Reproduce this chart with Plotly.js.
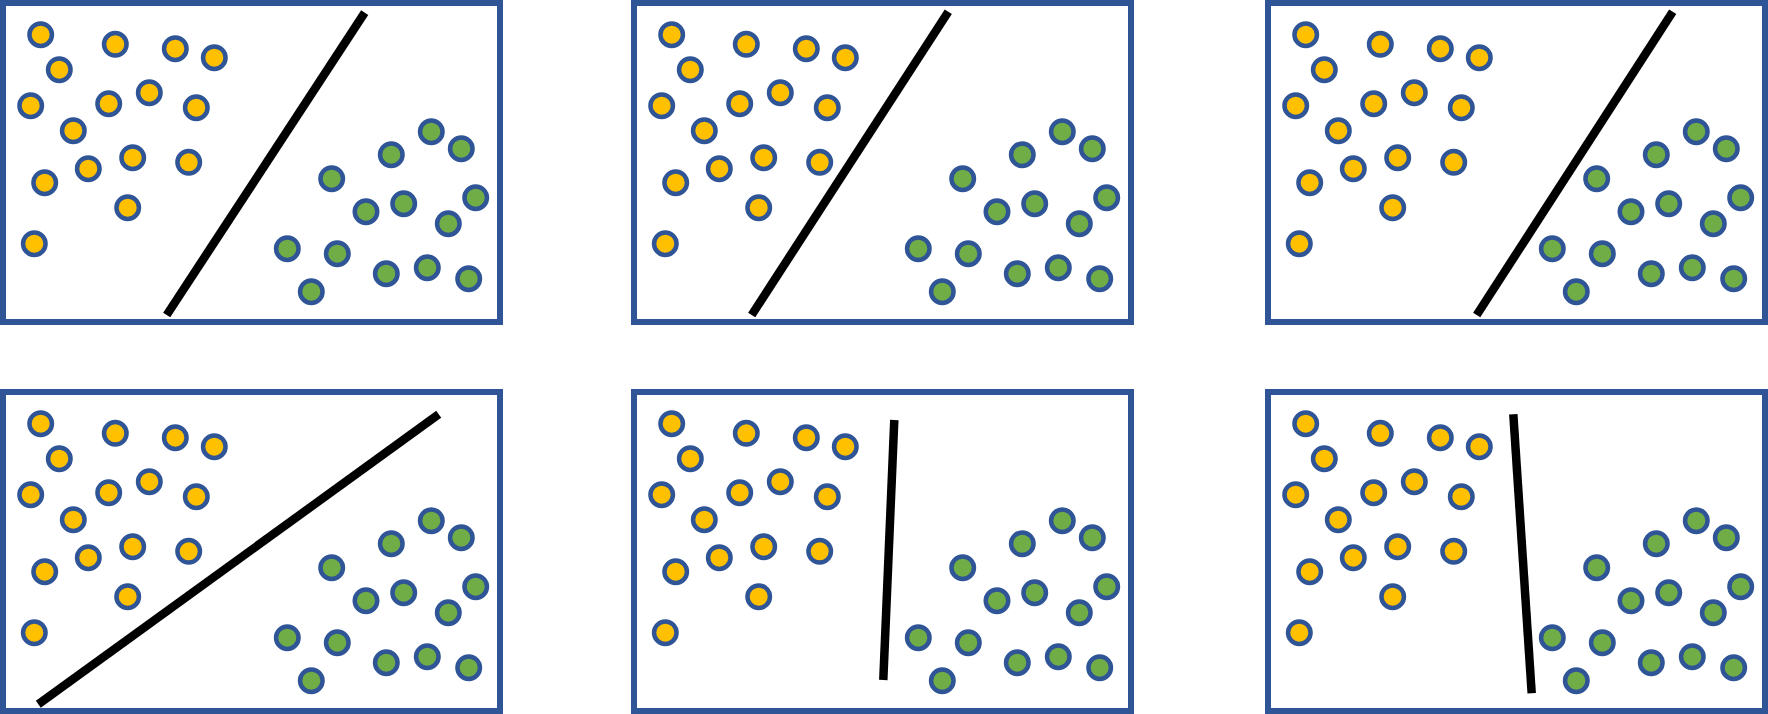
<!DOCTYPE html>
<html>
<head>
<meta charset="utf-8">
<script src="https://cdn.plot.ly/plotly-3.0.1.min.js"></script>
<style>
html,body{margin:0;padding:0;background:#ffffff;}
#chart{width:1768px;height:714px;}
</style>
</head>
<body>
<div id="chart"></div>
<script>
// Point positions (same in every panel), in panel units
const yellowX = [40.7, 115.3, 175.3, 214.3, 59.3, 30.7, 108.7, 149.3, 196.3, 73.3, 132.7, 88.3, 188.7, 44.7, 127.7, 34.3];
const yellowY = [34.7, 44.3, 48.7, 57.7, 69.7, 105.7, 103.7, 92.7, 107.7, 130.7, 157.7, 168.7, 162.3, 182.7, 207.7, 243.7];
const greenX = [431.3, 461.3, 391.3, 331.7, 366.0, 403.7, 475.7, 448.3, 287.3, 337.3, 386.3, 427.3, 468.7, 311.3];
const greenY = [131.7, 148.7, 154.7, 178.7, 211.7, 203.7, 197.7, 223.7, 248.7, 253.7, 273.7, 267.7, 278.7, 291.7];

// Separating line of each panel: [start, end]
const lineX = [[364.7, 166.7], [317.3, 120.7], [407.7, 211.7], [438.7, 38.3], [263.3, 252.3], [248.3, 266.7]];
const lineY = [[12.7, 315.0], [11.7, 315.0], [11.7, 315.0], [25.3, 315.3], [31.0, 291.0], [25.3, 304.3]];

const W = 1768, H = 714;
const panelLeft = [0, 631, 1265];
const panelTop = [0, 389];
const panelW = 503, panelH = 325, border = 6;

const BLUE = '#2F5597', YELLOW = '#FFC000', GREEN = '#70AD47';

const data = [];
const layout = {
  width: W, height: H,
  margin: {l: 0, r: 0, t: 0, b: 0},
  paper_bgcolor: '#ffffff',
  plot_bgcolor: 'rgba(0,0,0,0)',
  showlegend: false,
  shapes: []
};

for (let p = 0; p < 6; p++) {
  const col = p % 3, row = Math.floor(p / 3);
  const idx = p === 0 ? '' : String(p + 1);
  const xa = 'x' + idx, ya = 'y' + idx;
  const x0 = panelLeft[col] + border / 2, x1 = panelLeft[col] + panelW - border / 2;
  const y0 = panelTop[row] + border / 2, y1 = panelTop[row] + panelH - border / 2;
  layout['xaxis' + idx] = {
    domain: [x0 / W, x1 / W], range: [border / 2, panelW - border / 2],
    visible: false, fixedrange: true
  };
  layout['yaxis' + idx] = {
    domain: [1 - y1 / H, 1 - y0 / H], range: [panelH - border / 2, border / 2],
    visible: false, fixedrange: true
  };
  layout.shapes.push({
    type: 'rect', xref: xa + ' domain', yref: ya + ' domain',
    x0: 0, x1: 1, y0: 0, y1: 1,
    line: {color: BLUE, width: border}, fillcolor: 'rgba(0,0,0,0)', layer: 'above'
  });
  data.push({
    type: 'scatter', mode: 'lines', xaxis: xa, yaxis: ya,
    x: lineX[p], y: lineY[p], line: {color: '#000000', width: 8.5}, hoverinfo: 'skip'
  });
  data.push({
    type: 'scatter', mode: 'markers', xaxis: xa, yaxis: ya,
    x: yellowX, y: yellowY,
    marker: {size: 22.5, color: YELLOW, line: {color: BLUE, width: 4.5}}
  });
  data.push({
    type: 'scatter', mode: 'markers', xaxis: xa, yaxis: ya,
    x: greenX, y: greenY,
    marker: {size: 22.5, color: GREEN, line: {color: BLUE, width: 4.5}}
  });
}

Plotly.newPlot('chart', data, layout, {staticPlot: true, displayModeBar: false});
</script>
</body>
</html>
